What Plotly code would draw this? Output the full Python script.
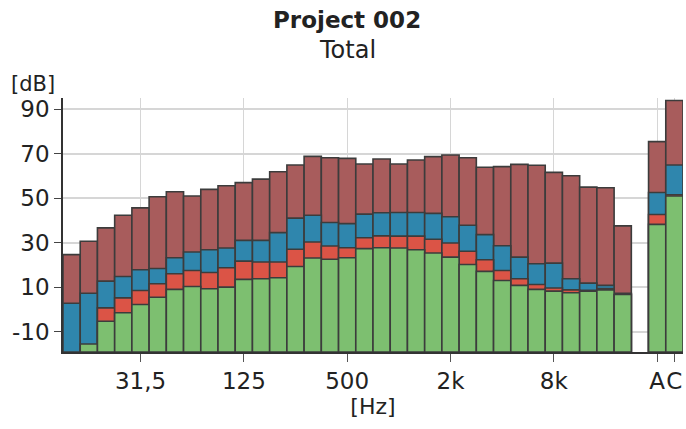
import plotly.graph_objects as go

# Third-octave bands 12.5 Hz .. 20 kHz, then A and C weighted totals
bands = ["12.5", "16", "20", "25", "31.5", "40", "50", "63", "80", "100", "125", "160",
         "200", "250", "315", "400", "500", "630", "800", "1k", "1.25k", "1.6k", "2k",
         "2.5k", "3.15k", "4k", "5k", "6.3k", "8k", "10k", "12.5k", "16k", "20k", "A", "C"]
positions = list(range(33)) + [34, 35]

brown = [24.7, 30.7, 36.7, 42.4, 45.7, 50.7, 52.9, 51.0, 54.0, 55.6, 57.0, 58.6, 61.9,
         64.9, 68.8, 68.2, 67.9, 65.4, 67.6, 65.4, 67.2, 68.7, 69.4, 68.2, 63.9, 64.2,
         65.2, 64.8, 61.6, 60.1, 55.0, 54.7, 37.6, 75.4, 93.9]
blue = [2.9, 7.4, 12.8, 14.9, 17.9, 18.5, 23.3, 25.9, 26.9, 27.7, 31.1, 31.1, 34.6,
        41.1, 42.4, 39.1, 38.6, 42.9, 43.5, 43.6, 43.6, 43.2, 41.7, 37.9, 33.7, 28.7,
        23.6, 20.6, 20.9, 13.9, 11.9, 10.9, 7.3, 52.6, 64.9]
red = [None, None, 0.8, 5.3, 8.6, 11.6, 16.1, 17.6, 16.7, 18.8, 21.8, 21.4, 21.4,
       27.1, 30.4, 28.6, 27.8, 32.3, 33.1, 33.0, 33.0, 31.6, 29.9, 26.2, 22.4, 17.6,
       13.9, 11.3, 9.7, 8.9, 8.7, 9.5, 7.0, 42.7, 51.6]
green = [None, -15.4, -5.2, -1.4, 2.3, 5.6, 9.1, 10.4, 9.4, 10.1, 13.6, 13.9, 14.3,
         19.4, 23.2, 22.6, 23.3, 27.4, 27.8, 27.7, 26.9, 25.4, 23.6, 20.3, 17.2, 13.1,
         10.9, 9.1, 8.3, 7.6, 8.3, 8.9, 6.8, 38.3, 51.0]

tick_pos = [4, 10, 16, 22, 28, 34, 35]
tick_text = ["31,5", "125", "500", "2k", "8k", "A", "C"]
y_ticks = [-10, 10, 30, 50, 70, 90]
y_text = ["-10", "10", "30", "50", "70", "90"]

Y_MIN, Y_MAX = -19, 95
FONT = "Tahoma, DejaVu Sans, sans-serif"
W, H = 686, 429
ML, MR, MT, MB = 63, 3, 98, 77

fig = go.Figure()
series = [(brown, "#a85c5c"), (blue, "#2f86ad"), (red, "#db5446"), (green, "#7dbf70")]
for vals, col in series:
    xs, hs = [], []
    for p, v in zip(positions, vals):
        if v is None:
            continue
        xs.append(p)
        hs.append(v - Y_MIN)
    fig.add_trace(go.Bar(x=xs, y=hs, base=Y_MIN, width=1.0,
                         marker=dict(color=col, line=dict(color="#3c3c3c", width=1.6)),
                         showlegend=False, hoverinfo="skip"))

pw = W - ML - MR
ph = H - MT - MB
def px(x, y):
    return (x - ML) / pw, (H - MB - y) / ph

t1 = px(347, 20)
t2 = px(347, 50)
t3 = px(33, 84)

fig.update_layout(
    width=W, height=H,
    barmode="overlay",
    paper_bgcolor="white", plot_bgcolor="white",
    margin=dict(l=ML, r=MR, t=MT, b=MB, autoexpand=False),
    font=dict(family=FONT, color="#222"),
    xaxis=dict(range=[-0.5, 35.5], tickvals=tick_pos, ticktext=tick_text,
               tickangle=0,
               showgrid=True, gridcolor="#d6d6d6", gridwidth=1,
               showline=True, linecolor="#333", linewidth=1.5,
               ticks="outside", ticklen=8, tickcolor="#555",
               tickfont=dict(size=23, family=FONT, color="#222"),
               title=dict(text="[Hz]", font=dict(size=22, family=FONT), standoff=2),
               automargin=False, zeroline=False),
    yaxis=dict(range=[Y_MIN, Y_MAX], tickvals=y_ticks, ticktext=y_text,
               showgrid=True, gridcolor="#d6d6d6", gridwidth=1.5,
               showline=True, linecolor="#333", linewidth=1.5,
               ticks="outside", ticklen=7, tickcolor="#444",
               tickfont=dict(size=23, family=FONT, color="#222"),
               automargin=False, zeroline=False),
    annotations=[
        dict(text="<b>Project 002</b>", x=t1[0], y=t1[1], xref="paper", yref="paper",
             xanchor="center", yanchor="middle", showarrow=False,
             font=dict(size=23, family=FONT, color="#222")),
        dict(text="Total", x=t2[0], y=t2[1], xref="paper", yref="paper",
             xanchor="center", yanchor="middle", showarrow=False,
             font=dict(size=24, family=FONT, color="#222")),
        dict(text="[dB]", x=t3[0], y=t3[1], xref="paper", yref="paper",
             xanchor="center", yanchor="middle", showarrow=False,
             font=dict(size=21, family=FONT, color="#222")),
    ],
)

fig.write_html("out.html",
               config={"displayModeBar": False},
               post_script="document.body.style.margin='0';document.body.style.padding='0';")
